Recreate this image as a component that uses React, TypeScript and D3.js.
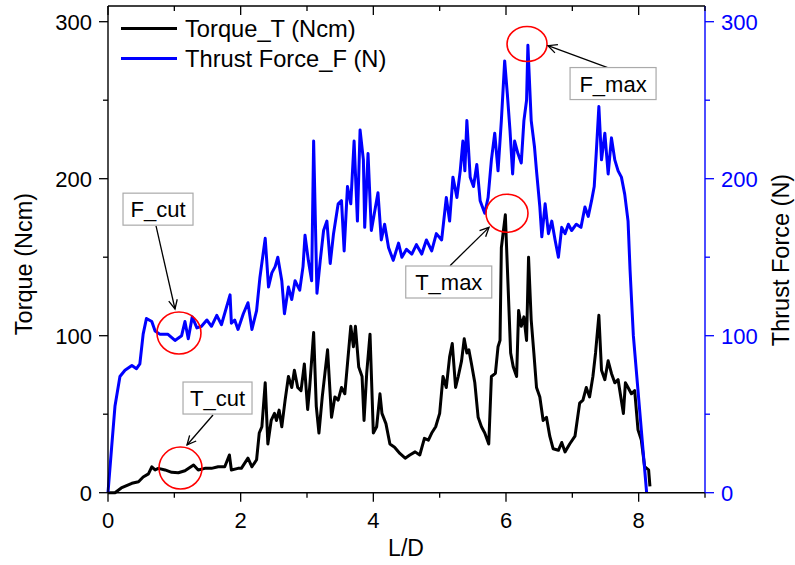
import React from 'react';
import * as d3 from 'd3';

// L/D positions and torque (Ncm)
const ldTorque = [
  0, 0.105, 0.2, 0.36, 0.46, 0.53, 0.61, 0.66, 0.71, 0.76, 0.86, 0.96, 1.06, 1.16, 1.29, 1.36, 1.46,
  1.56, 1.66, 1.76, 1.83, 1.86, 1.96, 2.01, 2.11, 2.17, 2.24, 2.28, 2.32, 2.37, 2.41, 2.46, 2.51,
  2.54, 2.58, 2.62, 2.67, 2.72, 2.77, 2.81, 2.86, 2.91, 2.96, 3.01, 3.04, 3.1, 3.14, 3.18, 3.23,
  3.27, 3.31, 3.37, 3.42, 3.47, 3.52, 3.57, 3.61, 3.66, 3.7, 3.73, 3.78, 3.83, 3.86, 3.9, 3.95,
  4.0, 4.05, 4.1, 4.13, 4.19, 4.25, 4.32, 4.4, 4.48, 4.55, 4.63, 4.7, 4.77, 4.83, 4.88, 4.94, 5.0,
  5.05, 5.1, 5.15, 5.19, 5.24, 5.28, 5.33, 5.37, 5.41, 5.44, 5.48, 5.53, 5.58, 5.63, 5.68, 5.74,
  5.78, 5.84, 5.88, 5.91, 5.93, 5.99, 6.03, 6.07, 6.11, 6.16, 6.19, 6.23, 6.27, 6.31, 6.34, 6.38,
  6.42, 6.46, 6.51, 6.56, 6.61, 6.66, 6.71, 6.79, 6.84, 6.89, 6.96, 7.04, 7.11, 7.16, 7.21, 7.26,
  7.31, 7.35, 7.4, 7.44, 7.49, 7.54, 7.59, 7.64, 7.69, 7.77, 7.8, 7.84, 7.89, 7.94, 7.99, 8.04,
  8.09, 8.15, 8.17,
];
const torque = [
  0, 0, 3, 6, 7, 10, 12, 16.5, 14.5, 15.5, 14.5, 13, 12.7, 14, 17.6, 14.5, 15.5,
  15.5, 16.5, 16.5, 24, 14.5, 15.5, 15.5, 22, 16.5, 21, 38, 42, 70, 31, 46, 50.5,
  46, 52.6, 42, 59, 74, 67, 78, 67, 65, 82, 53, 67, 102, 55, 38, 61,
  76, 91, 48, 61, 59, 67, 63, 82, 106, 93, 106, 80, 74, 46, 76, 101,
  38, 42, 63, 50.5, 44, 31, 29, 25, 22, 24, 26, 24, 34.6, 33.5, 38, 42, 50.5,
  74, 67, 86.5, 95, 67, 74, 84, 98, 89, 91, 82, 70, 48, 42, 38, 31,
  74, 76, 93, 97, 156, 177, 133, 89, 80, 74, 116, 106, 112, 97, 150, 110,
  89, 67, 61, 46, 48, 36, 28, 27, 32, 26, 31, 36, 57, 59, 67, 61,
  74, 89, 113, 78, 72, 84, 76, 70, 72, 50.5, 70, 67, 63, 65, 40, 33.5,
  16.5, 14.5, 4,
];

// L/D positions and thrust force (N)
const ldForce = [
  0, 0.055, 0.105, 0.18, 0.256, 0.36, 0.43, 0.48, 0.53, 0.58, 0.66, 0.71, 0.78, 0.9, 1.01, 1.11,
  1.16, 1.21, 1.27, 1.34, 1.41, 1.49, 1.56, 1.64, 1.71, 1.84, 1.86, 1.91, 1.96, 2.04, 2.11, 2.17,
  2.24, 2.29, 2.37, 2.42, 2.47, 2.52, 2.56, 2.62, 2.66, 2.72, 2.77, 2.82, 2.89, 2.94, 2.97, 3.02,
  3.07, 3.1, 3.15, 3.2, 3.25, 3.3, 3.35, 3.4, 3.47, 3.52, 3.56, 3.61, 3.66, 3.71, 3.76, 3.8, 3.85,
  3.87, 3.92, 3.97, 4.07, 4.12, 4.17, 4.23, 4.3, 4.38, 4.43, 4.5, 4.58, 4.65, 4.73, 4.8, 4.88,
  4.95, 5.03, 5.1, 5.15, 5.2, 5.26, 5.31, 5.35, 5.38, 5.41, 5.46, 5.51, 5.56, 5.61, 5.68, 5.73,
  5.78, 5.83, 5.88, 5.93, 5.98, 6.02, 6.06, 6.1, 6.13, 6.18, 6.23, 6.27, 6.31, 6.33, 6.38, 6.43,
  6.46, 6.51, 6.54, 6.59, 6.64, 6.69, 6.74, 6.79, 6.84, 6.89, 6.94, 6.99, 7.06, 7.13, 7.19, 7.24,
  7.29, 7.33, 7.36, 7.4, 7.44, 7.49, 7.54, 7.59, 7.64, 7.69, 7.74, 7.79, 7.84, 7.87, 7.89, 7.92,
  7.97, 8.02, 8.07, 8.12,
];
const force = [
  0, 29, 55, 74, 78, 81, 79, 82, 101, 111, 109, 103, 101, 101, 97, 100,
  109, 98, 112, 105, 106, 110, 106, 113, 107, 126, 108, 110, 104, 114, 121, 104,
  116, 137, 162, 131, 140, 144, 150, 135, 114, 131, 123, 135, 129, 144, 164, 148,
  135, 224, 127, 148, 167, 173, 146, 165, 184, 186, 154, 195, 184, 224, 173, 231, 212,
  169, 216, 167, 191, 161, 171, 156, 148, 159, 150, 155, 152, 158, 152, 161, 154,
  165, 161, 188, 173, 201, 188, 205, 224, 205, 237, 201, 195, 209, 186, 178, 188,
  212, 229, 205, 237, 275, 254, 231, 203, 224, 216, 210, 237, 250, 285, 237, 220,
  205, 182, 163, 184, 165, 173, 161, 150, 169, 165, 171, 167, 171, 169, 182, 176,
  186, 195, 216, 246, 212, 229, 203, 226, 212, 205, 201, 190, 173, 142, 125, 100,
  75, 50, 25, 0,
];

const xTicks = [0, 2, 4, 6, 8];
const xMinor = [1, 3, 5, 7, 9];
const yTicks = [0, 100, 200, 300];
const yMinor = [50, 150, 250];

// annotations in data units: ellipse centre, label box centre, arrow start -> tip
const notes = [
  { label: 'F_cut', cx: 1.07, cy: 101.7, bx: 0.754, by: 180.6, x0: 0.724, y0: 169.9, x1: 1.01, y1: 117 },
  { label: 'T_cut', cx: 1.093, cy: 15.7, bx: 1.651, by: 60.3, x0: 1.583, y0: 49.5, x1: 1.191, y1: 30.4 },
  { label: 'T_max', cx: 6.015, cy: 178, bx: 5.137, by: 134.2, x0: 5.156, y0: 144.6, x1: 5.744, y1: 169 },
  { label: 'F_max', cx: 6.317, cy: 285.8, bx: 7.614, by: 260.6, x0: 7.553, y0: 270.5, x1: 6.633, y1: 284.7 },
];
const ellipseR = [[22, 21], [21.5, 21], [21, 19], [20, 17.5]];
const boxW = [70, 69, 86, 86];

const W = 795;
const H = 565;
const font = '"Liberation Sans", Arial, sans-serif';
const BLUE = '#0000ff';

export default function App() {
  const x = d3.scaleLinear().domain([0, 9]).range([108, 705]);
  const y = d3.scaleLinear().domain([0, 310]).range([492.7, 6]);
  const [x0, x1] = x.range();
  const [y0, y1] = y.range();

  const lineT = d3
    .line<number>()
    .x((d, i) => x(ldTorque[i]))
    .y((d) => y(d));
  const lineF = d3
    .line<number>()
    .x((d, i) => x(ldForce[i]))
    .y((d) => y(d));

  const arrow = (n: (typeof notes)[number]) => {
    const ax = x(n.x0), ay = y(n.y0), bx = x(n.x1), by = y(n.y1);
    const ang = Math.atan2(by - ay, bx - ax);
    const len = 10, spread = 0.45;
    const p1 = [bx - len * Math.cos(ang - spread), by - len * Math.sin(ang - spread)];
    const p2 = [bx - len * Math.cos(ang + spread), by - len * Math.sin(ang + spread)];
    return (
      <g stroke="#000" strokeWidth={1.3} fill="none">
        <line x1={ax} y1={ay} x2={bx} y2={by} />
        <polyline points={`${p1[0]},${p1[1]} ${bx},${by} ${p2[0]},${p2[1]}`} />
      </g>
    );
  };

  return (
    <svg
      width={W}
      height={H}
      style={{ position: 'absolute', left: 0, top: 0, background: '#fff' }}
      fontFamily={font}
    >
      <rect width={W} height={H} fill="#fff" />

      {/* data */}
      <path d={lineT(torque) ?? ''} fill="none" stroke="#000" strokeWidth={3} strokeLinejoin="round" />
      <path d={lineF(force) ?? ''} fill="none" stroke={BLUE} strokeWidth={3} strokeLinejoin="round" />

      {/* frame */}
      <line x1={x0} x2={x1} y1={y0} y2={y0} stroke="#000" strokeWidth={1.4} />
      <line x1={x0} x2={x1} y1={y1} y2={y1} stroke="#000" strokeWidth={1.4} />
      <line x1={x0} x2={x0} y1={y0} y2={y1} stroke="#000" strokeWidth={1.4} />
      <line x1={x1} x2={x1} y1={y0} y2={y1} stroke={BLUE} strokeWidth={1.4} />

      {/* x ticks bottom (out) and top (in) */}
      {xTicks.map((t) => (
        <g key={'xt' + t}>
          <line x1={x(t)} x2={x(t)} y1={y0} y2={y0 + 9} stroke="#000" strokeWidth={1.3} />
          <line x1={x(t)} x2={x(t)} y1={y1} y2={y1 + 9} stroke="#000" strokeWidth={1.3} />
          <text x={x(t)} y={528} fontSize={22} textAnchor="middle">{t}</text>
        </g>
      ))}
      {xMinor.map((t) => (
        <g key={'xm' + t}>
          <line x1={x(t)} x2={x(t)} y1={y0} y2={y0 + 5} stroke="#000" strokeWidth={1.3} />
          <line x1={x(t)} x2={x(t)} y1={y1} y2={y1 + 5} stroke="#000" strokeWidth={1.3} />
        </g>
      ))}

      {/* left axis */}
      {yTicks.map((t) => (
        <g key={'yl' + t}>
          <line x1={x0 - 9} x2={x0} y1={y(t)} y2={y(t)} stroke="#000" strokeWidth={1.3} />
          <text x={92} y={y(t) + 8} fontSize={22} textAnchor="end">{t}</text>
        </g>
      ))}
      {yMinor.map((t) => (
        <line key={'ylm' + t} x1={x0 - 5} x2={x0} y1={y(t)} y2={y(t)} stroke="#000" strokeWidth={1.3} />
      ))}

      {/* right axis */}
      {yTicks.map((t) => (
        <g key={'yr' + t}>
          <line x1={x1} x2={x1 + 9} y1={y(t)} y2={y(t)} stroke={BLUE} strokeWidth={1.3} />
          <text x={721} y={y(t) + 8} fontSize={22} fill={BLUE}>{t}</text>
        </g>
      ))}
      {yMinor.map((t) => (
        <line key={'yrm' + t} x1={x1} x2={x1 + 5} y1={y(t)} y2={y(t)} stroke={BLUE} strokeWidth={1.3} />
      ))}

      {/* axis titles */}
      <text transform="translate(32,264) rotate(-90)" fontSize={23.5} textAnchor="middle">Torque (Ncm)</text>
      <text transform="translate(789,260) rotate(-90)" fontSize={23.5} textAnchor="middle">Thrust Force (N)</text>
      <text x={406} y={556} fontSize={23} textAnchor="middle">L/D</text>

      {/* legend */}
      <line x1={121} x2={177} y1={28.5} y2={28.5} stroke="#000" strokeWidth={3} />
      <text x={185} y={37} fontSize={23.7}>Torque_T (Ncm)</text>
      <line x1={121} x2={177} y1={58.5} y2={58.5} stroke={BLUE} strokeWidth={3} />
      <text x={185} y={67} fontSize={23.7}>Thrust Force_F (N)</text>

      {/* annotations */}
      {notes.map((n, i) => (
        <g key={n.label}>
          <ellipse
            cx={x(n.cx)}
            cy={y(n.cy)}
            rx={ellipseR[i][0]}
            ry={ellipseR[i][1]}
            fill="none"
            stroke="#ff0000"
            strokeWidth={1.6}
          />
          {arrow(n)}
          <rect
            x={x(n.bx) - boxW[i] / 2}
            y={y(n.by) - 16}
            width={boxW[i]}
            height={32}
            fill="#fff"
            stroke="#aaaaaa"
            strokeWidth={1.2}
          />
          <text x={x(n.bx)} y={y(n.by) + 8} fontSize={22} textAnchor="middle">{n.label}</text>
        </g>
      ))}
    </svg>
  );
}
